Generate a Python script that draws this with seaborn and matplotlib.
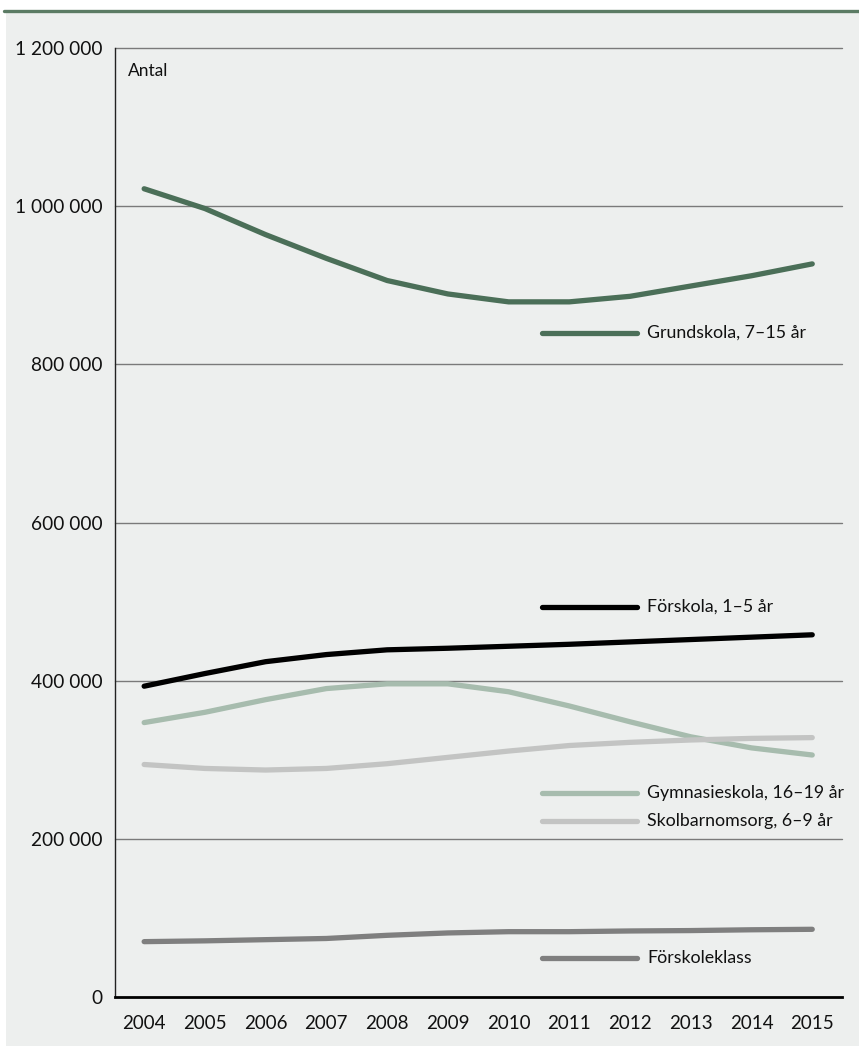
import matplotlib
matplotlib.use("Agg")
import matplotlib.pyplot as plt
import seaborn as sns
import pandas as pd
from matplotlib.ticker import FuncFormatter
from matplotlib.patches import Rectangle
from matplotlib.lines import Line2D

# Data (antal barn/elever)
years = list(range(2004, 2016))
grundskola = [1022000, 997000, 964000, 934000, 906000, 889000, 879000, 879000, 886000, 899000, 912000, 927000]
forskola = [393000, 409000, 424000, 433000, 439000, 441000, 443500, 446000, 449000, 452000, 455000, 458000]
gymnasieskola = [347000, 360000, 376000, 390000, 396000, 396000, 386000, 368000, 348000, 329000, 315000, 306000]
skolbarnomsorg = [294000, 289000, 287000, 289000, 295000, 303000, 311000, 318000, 322000, 325000, 327000, 328000]
forskoleklass = [70000, 71000, 72500, 74000, 78000, 81000, 82600, 82600, 83500, 84000, 85000, 85600]

labels = ["Grundskola, 7–15 år", "Förskola, 1–5 år", "Gymnasieskola, 16–19 år",
          "Skolbarnomsorg, 6–9 år", "Förskoleklass"]
colors = ["#4b6f58", "#000000", "#a7bcae", "#c3c4c3", "#7f7f7f"]
yticks = [0, 200000, 400000, 600000, 800000, 1000000, 1200000]

series = [grundskola, forskola, gymnasieskola, skolbarnomsorg, forskoleklass]
df = pd.concat(
    [pd.DataFrame({"år": years, "antal": vals, "serie": lab}) for lab, vals in zip(labels, series)],
    ignore_index=True,
)

sns.set_style("white")
plt.rcParams["font.family"] = ["Lato", "DejaVu Sans"]

bg = "#edefee"
fig = plt.figure(figsize=(8.59, 10.48), dpi=100, facecolor="white")

# grå bakgrund och grön linje överst
fig.add_artist(Rectangle((6 / 859, 2 / 1048), 1, 1 - 14 / 1048, transform=fig.transFigure,
                         facecolor=bg, edgecolor="none", zorder=-5))
fig.add_artist(Line2D([4 / 859, 1], [1 - 11 / 1048] * 2, transform=fig.transFigure,
                      color="#5b7b64", lw=2.4, zorder=-4))

ax = fig.add_axes([115 / 859, 1 - 997 / 1048, 727 / 859, 949 / 1048])
ax.set_zorder(2)
ax.patch.set_alpha(0)

sns.lineplot(data=df, x="år", y="antal", hue="serie", palette=dict(zip(labels, colors)),
             hue_order=labels, lw=3.8, solid_capstyle="round", legend=False, ax=ax, zorder=3)

ax.set_xlim(2003.52, 2015.49)
ax.set_ylim(0, 1200000)
ax.set_xticks(years)
ax.set_yticks(yticks)
ax.yaxis.set_major_formatter(FuncFormatter(lambda v, p: f"{v:,.0f}".replace(",", " ")))
ax.tick_params(axis="both", length=0, colors="#111111")
ax.tick_params(axis="y", pad=9, labelsize=13.8)
ax.tick_params(axis="x", pad=13, labelsize=13.5)
ax.set_xlabel("")
ax.set_ylabel("")

for v in yticks[1:]:
    ax.axhline(v, color="#7a7a7a", lw=1.0, zorder=1, clip_on=False)

for s in ["top", "right"]:
    ax.spines[s].set_visible(False)
ax.spines["left"].set_color("#222222")
ax.spines["left"].set_linewidth(1.0)
ax.spines["bottom"].set_color("black")
ax.spines["bottom"].set_linewidth(2.0)
ax.spines["bottom"].set_zorder(4)

ax.text(0.018, 0.984, "Antal", transform=ax.transAxes, ha="left", va="top", fontsize=12.5, color="#111111")

# etiketter vid linjerna
legend_y = [333, 607, 793, 821, 958]
for lab, col, py in zip(labels, colors, legend_y):
    yy = (997 - py) / 949
    ax.add_line(Line2D([(542 - 115) / 727, (637 - 115) / 727], [yy, yy], transform=ax.transAxes,
                       color=col, lw=3.8, solid_capstyle="round"))
    ax.text((647 - 115) / 727, yy, lab, transform=ax.transAxes, ha="left", va="center",
            fontsize=12.8, color="#111111")

fig.savefig("out.png", dpi=100, facecolor=fig.get_facecolor())
